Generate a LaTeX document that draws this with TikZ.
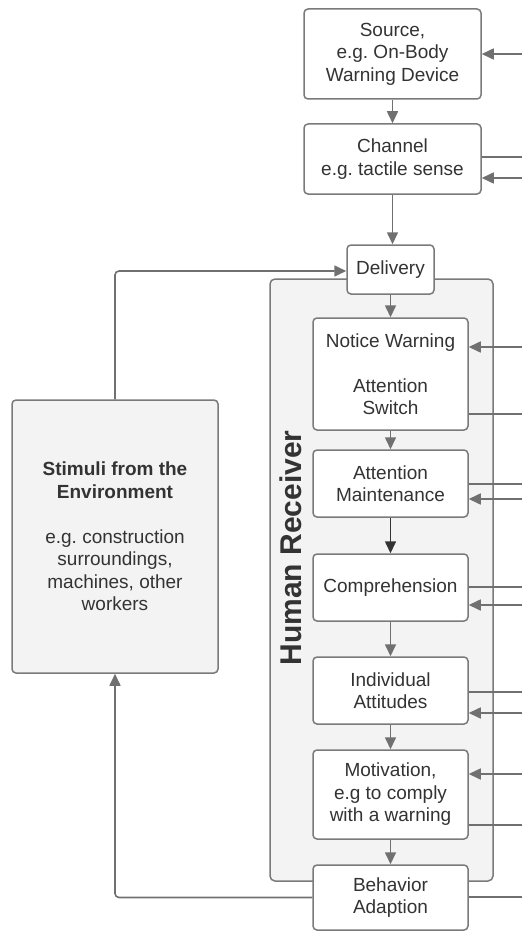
\documentclass[tikz,border=0pt]{standalone}
\usepackage{fontspec}
\setmainfont{Liberation Sans}
\usetikzlibrary{arrows.meta,calc}
\definecolor{linegray}{HTML}{707070}
\definecolor{boxgray}{HTML}{7A7A7A}
\definecolor{panelfill}{HTML}{F3F3F3}
\definecolor{txt}{HTML}{333333}
\frenchspacing
\begin{document}
\begin{tikzpicture}[x=1pt,y=-1pt,
  stage/.style={draw=boxgray,line width=1.5pt,fill=white,rounded corners=4pt,
    align=center,text=txt,inner sep=0pt,
    font=\fontsize{19}{22.5}\selectfont},
  arr/.style={draw=linegray,line width=1.6pt,-{Triangle[length=12pt,width=11pt]}},
  ln/.style={draw=linegray,line width=1.6pt},
  darkarr/.style={draw=txt,line width=1.6pt,-{Triangle[length=12pt,width=11pt]}}]
\useasboundingbox (0,0) rectangle (522,931);

% Human receiver panel
\node[draw=boxgray,line width=1.5pt,fill=panelfill,rounded corners=5pt,
  minimum width=223pt,minimum height=602pt,inner sep=0pt] (panel) at (381.5,580) {};
\node[rotate=90,text=txt,inner sep=0pt,
  font=\fontsize{30}{34}\selectfont\bfseries] (hr) at (291,548) {Human Receiver};

% Stages
\node[stage,minimum width=177pt,minimum height=90pt] (source) at (392.5,54)
  {Source,\\e.g. On-Body\\Warning Device};
\node[stage,minimum width=177pt,minimum height=70pt] (channel) at (392.5,159)
  {Channel\\e.g. tactile sense};
\node[stage,minimum width=87pt,minimum height=49pt] (delivery) at (390.5,269.5)
  {Delivery};
\node[stage,minimum width=155pt,minimum height=112pt] (notice) at (390.5,374)
  {Notice Warning\\\mbox{}\\Attention\\Switch};
\node[stage,minimum width=155pt,minimum height=67pt] (maint) at (390.5,483.5)
  {Attention\\Maintenance};
\node[stage,minimum width=155pt,minimum height=67pt] (compr) at (390.5,587.5)
  {Comprehension};
\node[stage,minimum width=155pt,minimum height=67pt] (attit) at (390.5,690.5)
  {Individual\\Attitudes};
\node[stage,minimum width=155pt,minimum height=89pt] (motiv) at (390.5,794.5)
  {Motivation,\\e.g to comply\\with a warning};
\node[stage,minimum width=155pt,minimum height=65pt] (behav) at (390.5,897.5)
  {Behavior\\Adaption};

% Environment
\node[stage,fill=panelfill,minimum width=206pt,minimum height=273pt] (stim) at (115,536.5)
  {\textbf{Stimuli from the}\\\textbf{Environment}\\\mbox{}\\e.g. construction\\surroundings,\\machines, other\\workers};

% Main chain
\draw[arr] (source.south) -- (source.south |- channel.north);
\draw[arr] (channel.south) -- (channel.south |- delivery.north);
\draw[arr] (delivery.south) -- (notice.north);
\draw[arr] (notice.south) -- (maint.north);
\draw[darkarr] (maint.south) -- (compr.north);
\draw[arr] (compr.south) -- (attit.north);
\draw[arr] (attit.south) -- (motiv.north);
\draw[arr] (motiv.south) -- (behav.north);

% Environment loop
\draw[arr,rounded corners=4pt] (stim.north) |- ($(delivery.west)+(0,1.5)$);
\draw[arr,rounded corners=4pt] (behav.west) -| (stim.south);

% Links to the right edge
\coordinate (e1) at (522,54);
\coordinate (e2) at (522,157);
\coordinate (e3) at (522,178);
\coordinate (e4) at (522,347);
\coordinate (e5) at (522,414);
\coordinate (e6) at (522,484);
\coordinate (e7) at (522,499);
\coordinate (e8) at (522,587);
\coordinate (e9) at (522,605);
\coordinate (e10) at (522,692);
\coordinate (e11) at (522,713);
\coordinate (e12) at (522,774);
\coordinate (e13) at (522,825);
\coordinate (e14) at (522,897);

\draw[arr] (e1) -- (source.east |- e1);
\draw[ln] (channel.east |- e2) -- (e2);
\draw[arr] (e3) -- (channel.east |- e3);
\draw[arr] (e4) -- (notice.east |- e4);
\draw[ln] (notice.east |- e5) -- (e5);
\draw[ln] (maint.east |- e6) -- (e6);
\draw[arr] (e7) -- (maint.east |- e7);
\draw[ln] (compr.east |- e8) -- (e8);
\draw[arr] (e9) -- (compr.east |- e9);
\draw[ln] (attit.east |- e10) -- (e10);
\draw[arr] (e11) -- (attit.east |- e11);
\draw[arr] (e12) -- (motiv.east |- e12);
\draw[ln] (motiv.east |- e13) -- (e13);
\draw[ln] (behav.east |- e14) -- (e14);
\end{tikzpicture}
\end{document}
